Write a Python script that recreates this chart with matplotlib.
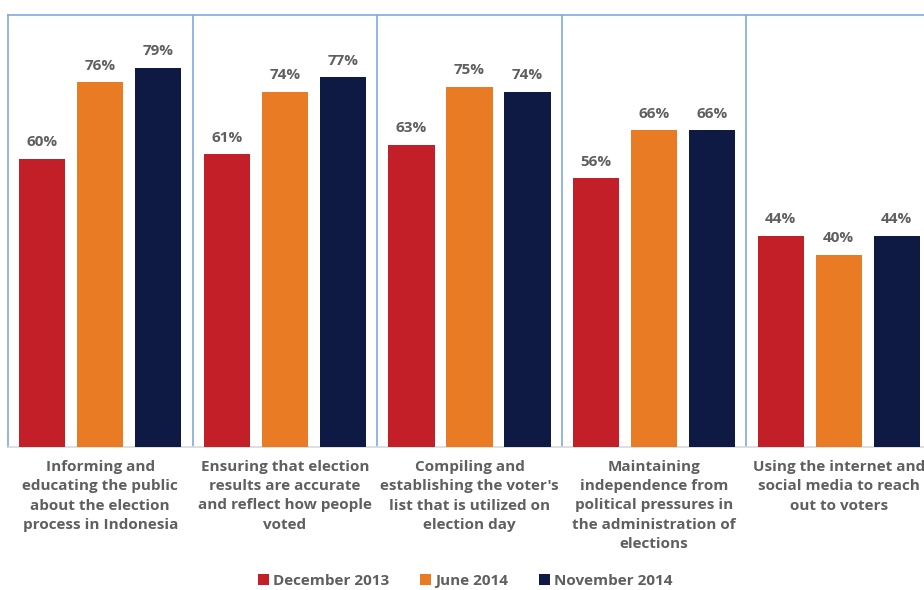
import numpy as np
import matplotlib.pyplot as plt

categories = [
    "Informing and\neducating the public\nabout the election\nprocess in Indonesia",
    "Ensuring that election\nresults are accurate\nand reflect how people\nvoted",
    "Compiling and\nestablishing the voter's\nlist that is utilized on\nelection day",
    "Maintaining\nindependence from\npolitical pressures in\nthe administration of\nelections",
    "Using the internet and\nsocial media to reach\nout to voters",
]
series_names = ["December 2013", "June 2014", "November 2014"]
dec_2013 = [60, 61, 63, 56, 44]
jun_2014 = [76, 74, 75, 66, 40]
nov_2014 = [79, 77, 74, 66, 44]

colors = ['#C21F28', '#E87B24', '#0F1A44']
text_gray = '#5F5F5F'
line_blue = '#7FAADB'

plt.rcParams['font.family'] = ['Open Sans', 'DejaVu Sans']

fig = plt.figure(figsize=(9.24, 5.9), dpi=100)
ax = fig.add_axes([8 / 924, 1 - 447 / 590, 923 / 924, (447 - 15) / 590])

x = np.arange(len(categories))
offset = 0.314
width = 0.25
for i, (vals, name) in enumerate(zip([dec_2013, jun_2014, nov_2014], series_names)):
    bars = ax.bar(x + (i - 1) * offset, vals, width, color=colors[i], label=name, zorder=3)
    for b, v in zip(bars, vals):
        ax.text(b.get_x() + b.get_width() / 2, v + 2.0, f"{v}%", ha='center', va='bottom',
                fontsize=11, fontweight='bold', color=text_gray)

ax.set_xlim(-0.5, len(categories) - 0.5)
ax.set_ylim(0, 90)

# group separators
for sep in x[:-1] + 0.5:
    ax.axvline(sep, color=line_blue, lw=1.2, zorder=1)

for side in ['top', 'left', 'right']:
    ax.spines[side].set_color(line_blue)
    ax.spines[side].set_linewidth(1.2)
ax.spines['bottom'].set_color('#D9D9D9')
ax.spines['bottom'].set_linewidth(1.2)

ax.set_yticks([])
ax.set_xticks(x)
ax.set_xticklabels(categories, fontsize=11, fontweight='bold', color=text_gray, linespacing=1.5)
ax.tick_params(axis='x', length=0, pad=9)

ax.legend(loc='lower center', bbox_to_anchor=(0.5 - 4 / 924, -0.358), ncol=3, frameon=False,
          handlelength=0.7, handleheight=0.7, handletextpad=0.3, columnspacing=2.0,
          prop={'size': 11, 'weight': 'bold'}, labelcolor=text_gray)

fig.savefig('out.png', dpi=100)
